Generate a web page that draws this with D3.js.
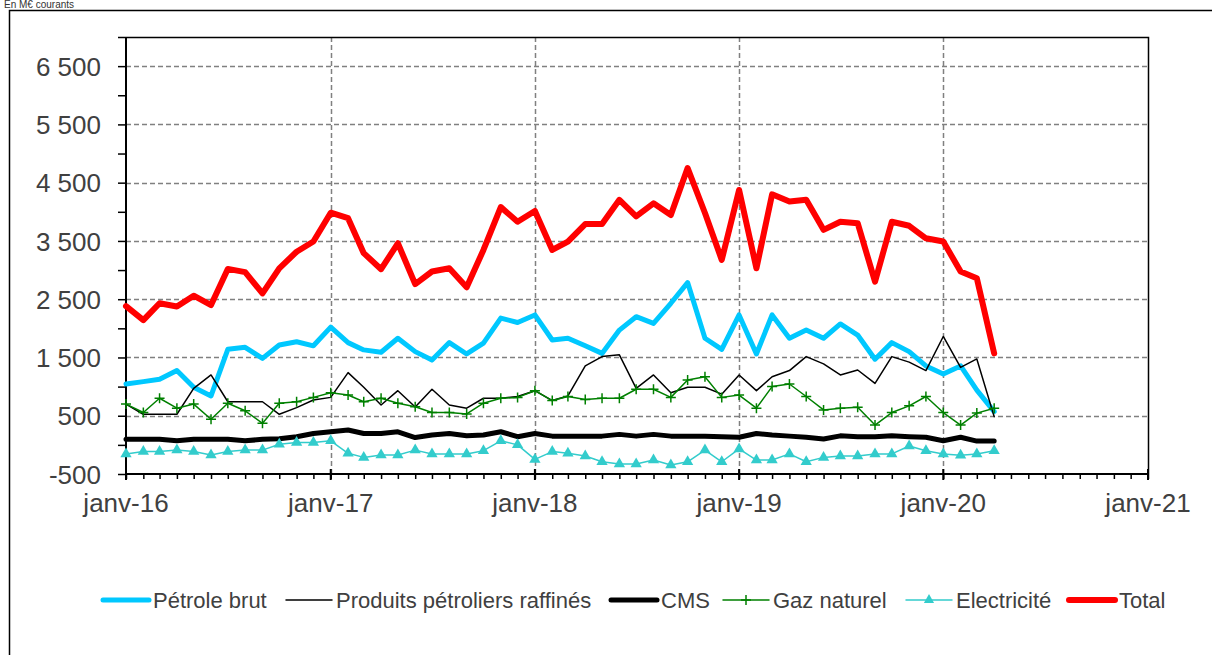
<!DOCTYPE html>
<html>
<head>
<meta charset="utf-8">
<script src="https://cdn.jsdelivr.net/npm/d3@7"></script>
<style>
  body { margin: 0; background: #fff; }
  svg { display: block; font-family: "Liberation Sans", Arial, sans-serif; }
  .tick-label { fill: #404040; }
</style>
</head>
<body>
<svg id="chart" width="1212" height="655"></svg>
<script>
(function(d3) {
  'use strict';

  // monthly series, janv-16 .. avr-20 (M€ courants)
  var months = d3.timeMonth.range(new Date(2016, 0, 1), new Date(2020, 4, 1));

  var petroleBrut = [1045, 1085, 1125, 1275, 990, 840, 1640, 1675, 1485, 1715, 1770, 1700,
    2020, 1755, 1630, 1590, 1830, 1600, 1455, 1755, 1560, 1745, 2175, 2100,
    2230, 1800, 1830, 1700, 1570, 1970, 2200, 2085, 2430, 2785, 1830, 1640,
    2230, 1560, 2230, 1830, 1970, 1830, 2075, 1885, 1470, 1755, 1600, 1355,
    1215, 1355, 940, 570];
  var produitsRaffines = [700, 525, 525, 525, 970, 1200, 740, 740, 740, 525, 640, 770,
    815, 1240, 990, 685, 930, 650, 955, 685, 630, 800, 800, 830,
    930, 760, 840, 1355, 1515, 1545, 970, 1200, 895, 990, 990, 870,
    1200, 930, 1170, 1275, 1515, 1390, 1200, 1285, 1055, 1515, 1420, 1275,
    1860, 1330, 1475, 485];
  var cms = [95, 95, 95, 70, 95, 95, 95, 70, 95, 105, 140, 195,
    225, 255, 195, 195, 225, 125, 170, 195, 155, 170, 225, 140,
    195, 150, 150, 150, 150, 180, 150, 180, 150, 150, 150, 140,
    130, 195, 170, 150, 130, 100, 155, 140, 140, 155, 140, 130,
    70, 130, 65, 65];
  var gazNaturel = [700, 555, 800, 630, 700, 440, 715, 585, 370, 715, 740, 815,
    895, 855, 740, 800, 715, 655, 555, 555, 530, 715, 800, 815,
    930, 760, 830, 780, 800, 800, 955, 955, 815, 1115, 1170, 815,
    855, 630, 1000, 1045, 830, 600, 630, 645, 340, 555, 670, 830,
    555, 340, 545, 630];
  var electricite = [-155, -115, -115, -90, -115, -175, -115, -90, -90, 10, 40, 40,
    70, -145, -215, -175, -175, -90, -155, -155, -155, -100, 70, 0,
    -250, -115, -145, -190, -290, -330, -330, -260, -345, -290, -90, -290,
    -70, -260, -260, -155, -290, -215, -190, -190, -155, -155, -20, -100,
    -155, -180, -155, -100];
  var total = [2380, 2140, 2430, 2375, 2560, 2400, 3020, 2965, 2600, 3030, 3315, 3490,
    3985, 3890, 3290, 3015, 3460, 2760, 2975, 3030, 2705, 3345, 4080, 3830,
    4015, 3345, 3490, 3790, 3790, 4205, 3920, 4145, 3945, 4750, 3980, 3175,
    4375, 3030, 4300, 4175, 4205, 3690, 3830, 3805, 2800, 3830, 3760, 3545,
    3490, 2975, 2860, 1570];

  var yTicks = [-500, 500, 1500, 2500, 3500, 4500, 5500, 6500];
  var yMinorTicks = [0, 1000, 2000, 3000, 4000, 5000, 6000, 7000];
  var yearTicks = ['janv-16', 'janv-17', 'janv-18', 'janv-19', 'janv-20', 'janv-21'];

  var series = [
    { name: 'Pétrole brut', values: petroleBrut, color: '#00c8ff', width: 5 },
    { name: 'Produits pétroliers raffinés', values: produitsRaffines, color: '#000000', width: 1.5 },
    { name: 'CMS', values: cms, color: '#000000', width: 5 },
    { name: 'Gaz naturel', values: gazNaturel, color: '#008000', width: 1.5, marker: 'plus' },
    { name: 'Electricité', values: electricite, color: '#33cccc', width: 1.5, marker: 'triangle' },
    { name: 'Total', values: total, color: '#ff0000', width: 6 }
  ];

  var margin = { left: 126, right: 1148, top: 37, bottom: 474 };
  var svg = d3.select('#chart');

  var x = d3.scaleTime()
    .domain([new Date(2016, 0, 1), new Date(2021, 0, 1)])
    .range([margin.left, margin.right]);
  var y = d3.scaleLinear()
    .domain([-500, 7000])
    .range([margin.bottom, margin.top]);

  var fr = d3.formatLocale({ decimal: ',', thousands: '\u00a0', grouping: [3], currency: ['', ' €'], minus: '-' });
  var fmt = fr.format(',d');
  var years = d3.timeYear.range(new Date(2016, 0, 1), new Date(2021, 0, 2));

  // title and outer frame
  svg.append('text')
    .attr('x', 4).attr('y', 8)
    .attr('font-size', 10)
    .attr('fill', '#333')
    .text('En M€ courants');
  svg.append('rect')
    .attr('x', 9.5).attr('y', 10.5)
    .attr('width', 1215).attr('height', 660)
    .attr('fill', 'none').attr('stroke', '#000').attr('stroke-width', 1.5);

  // grid
  var grid = svg.append('g').attr('stroke', '#808080').attr('stroke-width', 1.5).attr('stroke-dasharray', '5,3');
  grid.selectAll('.hg').data(yTicks.slice(1)).enter().append('line')
    .attr('x1', margin.left).attr('x2', margin.right)
    .attr('y1', function(d) { return Math.round(y(d)) + 0.5; })
    .attr('y2', function(d) { return Math.round(y(d)) + 0.5; });
  grid.selectAll('.vg').data(years.slice(1, -1)).enter().append('line')
    .attr('y1', margin.top).attr('y2', margin.bottom)
    .attr('x1', function(d) { return Math.round(x(d)) + 0.5; })
    .attr('x2', function(d) { return Math.round(x(d)) + 0.5; });

  // plot border top / right
  svg.append('path')
    .attr('d', 'M' + margin.left + ',' + (margin.top + 0.5) + 'H' + (margin.right + 0.5) + 'V' + margin.bottom)
    .attr('fill', 'none').attr('stroke', '#000').attr('stroke-width', 1.5);

  // y axis
  var yAxis = svg.append('g').attr('transform', 'translate(' + margin.left + ',0)');
  yAxis.call(d3.axisLeft(y).tickValues(yTicks.concat(yMinorTicks)).tickSize(8).tickFormat(function(d) {
    return yTicks.indexOf(d) >= 0 ? fmt(d) : '';
  }));
  yAxis.select('.domain').attr('stroke-width', 2).attr('d', 'M0,' + margin.top + 'V' + margin.bottom);
  yAxis.selectAll('.tick line').attr('stroke-width', 1.5);
  yAxis.selectAll('.tick text')
    .attr('class', 'tick-label')
    .attr('font-size', 26)
    .attr('x', -25)
    .attr('dy', '0.35em');

  // x axis
  var xAxis = svg.append('g').attr('transform', 'translate(0,' + margin.bottom + ')');
  xAxis.call(d3.axisBottom(x).ticks(d3.timeMonth.every(1)).tickSize(5).tickFormat(''));
  xAxis.select('.domain').attr('stroke-width', 2).attr('d', 'M' + margin.left + ',0H' + margin.right);
  xAxis.selectAll('.tick line').attr('stroke-width', 1.5);
  xAxis.selectAll('.major').data(years).enter().append('line')
    .attr('x1', function(d) { return x(d); }).attr('x2', function(d) { return x(d); })
    .attr('y1', -5).attr('y2', 6)
    .attr('stroke', '#000').attr('stroke-width', 2);
  xAxis.selectAll('.ylab').data(years).enter().append('text')
    .attr('class', 'tick-label')
    .attr('x', function(d) { return x(d); })
    .attr('y', 38)
    .attr('text-anchor', 'middle')
    .attr('font-size', 26)
    .text(function(d, i) { return yearTicks[i]; });

  // series
  var line = d3.line()
    .x(function(d, i) { return x(months[i]); })
    .y(function(d) { return y(d); });

  var plotG = svg.append('g');
  series.forEach(function(s) {
    var g = plotG.append('g');
    g.append('path')
      .attr('d', line(s.values))
      .attr('fill', 'none')
      .attr('stroke', s.color)
      .attr('stroke-width', s.width)
      .attr('stroke-linejoin', 'round')
      .attr('stroke-linecap', 'round');
    if (s.marker) {
      g.selectAll('.m').data(s.values).enter().append('path')
        .attr('transform', function(d, i) { return 'translate(' + x(months[i]) + ',' + y(d) + ')'; })
        .attr('d', s.marker === 'plus' ? 'M-5,0H5M0,-5V5' : d3.symbol().type(d3.symbolTriangle).size(55)())
        .attr('fill', s.color)
        .attr('stroke', s.color)
        .attr('stroke-width', s.marker === 'plus' ? 1.5 : 0);
    }
  });

  // legend
  var legendX = [101, 284, 609, 721, 904, 1067];
  var legendY = 600;
  var leg = svg.append('g').selectAll('g').data(series).enter().append('g')
    .attr('transform', function(d, i) { return 'translate(' + legendX[i] + ',' + legendY + ')'; });
  leg.append('line')
    .attr('x1', 2).attr('x2', 48)
    .attr('stroke', function(d) { return d.color; })
    .attr('stroke-width', function(d) { return d.width; })
    .attr('stroke-linecap', 'round');
  leg.filter(function(d) { return d.marker; }).append('path')
    .attr('transform', 'translate(25,0)')
    .attr('d', function(d) { return d.marker === 'plus' ? 'M-5,0H5M0,-5V5' : d3.symbol().type(d3.symbolTriangle).size(45)(); })
    .attr('fill', function(d) { return d.color; })
    .attr('stroke', function(d) { return d.color; })
    .attr('stroke-width', function(d) { return d.marker === 'plus' ? 1.5 : 0; });
  leg.append('text')
    .attr('class', 'tick-label')
    .attr('x', 52)
    .attr('dy', '0.35em')
    .attr('font-size', 22)
    .text(function(d) { return d.name; });
}(d3));
</script>
</body>
</html>
